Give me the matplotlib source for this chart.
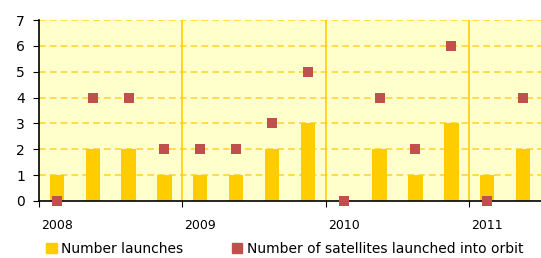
import matplotlib.pyplot as plt
import numpy as np
from matplotlib.lines import Line2D
from matplotlib.patches import Patch

# quarterly data, 2008 Q1 .. 2011 Q2
years = ['2008', '2009', '2010', '2011']
launches = [1, 2, 2, 1, 1, 1, 2, 3, 0, 2, 1, 3, 1, 2]
satellites = [0, 4, 4, 2, 2, 2, 3, 5, 0, 4, 2, 6, 0, 4]

x = np.arange(len(launches))

fig = plt.figure(figsize=(5.41, 2.58), dpi=100)
ax = fig.add_axes([0.072, 0.221, 0.928, 0.701])
ax.set_facecolor('#FFFFCC')

for y in range(1, 8):
    ax.axhline(y, color='#FFD633', linestyle=(0, (4, 2.5)), linewidth=1.2, zorder=1)
for b in [3.5, 7.5, 11.5]:
    ax.axvline(b, color='#FFCC00', linewidth=1.2, zorder=1)

ax.bar(x, launches, width=0.4, color='#FFCC00', zorder=2)
ax.scatter(x, satellites, marker='s', s=52, color='#C0504D', linewidths=0,
           zorder=3, clip_on=False)

ax.set_xlim(-0.5, 13.5)
ax.set_ylim(0, 7)
ax.set_yticks(range(0, 8))
ax.tick_params(axis='y', labelsize=10, length=4, direction='out', pad=6)

ax.set_xticks([-0.5, 3.5, 7.5, 11.5])
ax.set_xticklabels([])
ax.tick_params(axis='x', length=4, direction='out')
for i, yr in enumerate(years):
    ax.text(i * 4, -0.93, yr, ha='center', va='center', fontsize=9,
            transform=ax.transData)

for s in ['top', 'right']:
    ax.spines[s].set_visible(False)
ax.spines['left'].set_linewidth(1.2)
ax.spines['bottom'].set_linewidth(1.2)

handles = [Patch(color='#FFCC00', label='Number launches'),
           Line2D([], [], marker='s', linestyle='none', color='#C0504D',
                  markersize=7, label='Number of satellites launched into orbit')]
fig.legend(handles=handles, loc='center', bbox_to_anchor=(0.526, 0.035), ncol=2,
           frameon=False, fontsize=10, handlelength=0.8, handletextpad=0.3,
           columnspacing=3.5)

fig.savefig('out.png', dpi=100)
